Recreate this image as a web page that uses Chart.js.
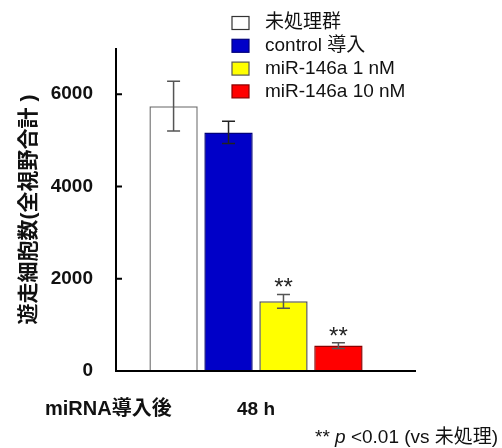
<!DOCTYPE html>
<html><head><meta charset="utf-8">
<script src="https://cdn.jsdelivr.net/npm/chart.js@4/dist/chart.umd.min.js"></script>
<style>html,body{margin:0;padding:0;background:#fff;}#wrap{width:502px;height:448px;position:relative;}</style>
</head><body><div id="wrap"><canvas id="c" width="502" height="448"></canvas></div>
<script>
const categories = ['48 h'];
const seriesLabels = ['未処理群', 'control 導入', 'miR-146a 1 nM', 'miR-146a 10 nM'];
const means = [5740, 5170, 1510, 550];
const errors = [540, 240, 150, 60];
const marks = ['', '', '**', '**'];
const yTicks = [0, 2000, 4000, 6000];
const yTitle = '遊走細胞数(全視野合計 )';
const xPrefix = 'miRNA導入後';
const footPre = '** ';
const footItalic = 'p';
const footPost = ' <0.01 (vs 未処理)';

const fills = ['#ffffff', '#0000c8', '#ffff00', '#ff0000'];
const borders = ['#777777', '#00007a', '#555555', '#8a0000'];
const FF = "'Liberation Sans', 'Noto Sans CJK JP', sans-serif";

const datasets = seriesLabels.map((lab, i) => ({
  label: lab,
  data: [means[i]],
  backgroundColor: fills[i],
  borderColor: borders[i],
  borderWidth: 1.5,
  categoryPercentage: 0.785,
  barPercentage: 0.88
}));

const extras = {
  id: 'extras',
  afterDatasetsDraw(chart) {
    const ctx = chart.ctx;
    const ys = chart.scales.y;
    const a = chart.chartArea;
    ctx.save();
    datasets.forEach((d, i) => {
      const bar = chart.getDatasetMeta(i).data[0];
      const x = bar.x;
      const yt = ys.getPixelForValue(means[i] + errors[i]);
      const yb = ys.getPixelForValue(means[i] - errors[i]);
      ctx.strokeStyle = i === 1 ? '#222' : '#555';
      ctx.lineWidth = 1.5;
      ctx.beginPath();
      ctx.moveTo(x, yt); ctx.lineTo(x, yb);
      ctx.moveTo(x - 6.5, yt); ctx.lineTo(x + 6.5, yt);
      ctx.moveTo(x - 6.5, yb); ctx.lineTo(x + 6.5, yb);
      ctx.stroke();
      if (marks[i]) {
        ctx.fillStyle = '#222';
        ctx.font = '24px ' + FF;
        ctx.textAlign = 'center';
        ctx.textBaseline = 'alphabetic';
        ctx.fillText(marks[i], x, yt + 1);
      }
    });
    ctx.strokeStyle = '#000';
    ctx.lineWidth = 2;
    ctx.beginPath();
    ctx.moveTo(a.left, a.top); ctx.lineTo(a.left, a.bottom);
    ctx.moveTo(a.left - 1, a.bottom); ctx.lineTo(a.right + 20, a.bottom);
    yTicks.forEach(v => {
      const y = ys.getPixelForValue(v);
      ctx.moveTo(a.left, y); ctx.lineTo(a.left + 6, y);
    });
    ctx.stroke();
    ctx.font = '19px ' + FF;
    ctx.textAlign = 'left';
    ctx.textBaseline = 'middle';
    datasets.forEach((d, i) => {
      const cy = 23 + i * 22.8;
      ctx.fillStyle = fills[i];
      ctx.fillRect(232, cy - 6.5, 17, 13);
      ctx.strokeStyle = i === 0 ? '#333' : borders[i];
      ctx.lineWidth = 1.2;
      ctx.strokeRect(232, cy - 6.5, 17, 13);
      ctx.fillStyle = '#111';
      ctx.fillText(d.label, 265, cy);
    });
    ctx.font = 'bold 20px ' + FF;
    ctx.fillStyle = '#111';
    ctx.fillText(xPrefix, 45, 409);
    ctx.font = '19px ' + FF;
    let fx = 315;
    const fy = 438;
    ctx.fillText(footPre, fx, fy); fx += ctx.measureText(footPre).width;
    ctx.font = 'italic 19px ' + FF;
    ctx.fillText(footItalic, fx, fy); fx += ctx.measureText(footItalic).width;
    ctx.font = '19px ' + FF;
    ctx.fillText(footPost, fx, fy);
    ctx.restore();
  }
};

new Chart(document.getElementById('c'), {
  type: 'bar',
  data: { labels: categories, datasets },
  options: {
    responsive: false,
    animation: false,
    layout: { padding: { left: 0, top: 48, right: 106, bottom: 0 } },
    plugins: { legend: { display: false }, tooltip: { enabled: false } },
    scales: {
      x: {
        type: 'category',
        grid: { display: false, drawTicks: false },
        border: { display: false },
        ticks: { color: '#111', font: { family: FF, size: 19, weight: 'bold' }, padding: 27 },
        afterFit: s => { s.height = 77; }
      },
      y: {
        min: 0, max: 7000,
        afterBuildTicks: s => { s.ticks = yTicks.map(v => ({ value: v })); },
        grid: { display: false, drawTicks: false },
        border: { display: false },
        ticks: { color: '#111', font: { family: FF, size: 19, weight: 'bold' }, padding: 23,
                 callback: v => String(v) },
        title: { display: true, text: yTitle, color: '#111', font: { family: FF, size: 21, weight: 'bold' }, padding: { top: 17, bottom: 0 } },
        afterFit: s => { s.width = 116; }
      }
    }
  },
  plugins: [extras]
});
</script></body></html>
